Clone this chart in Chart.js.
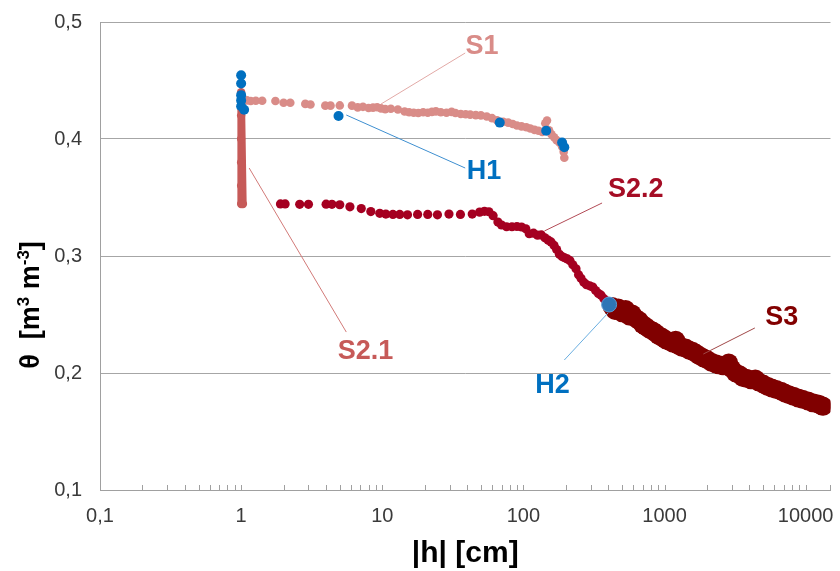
<!DOCTYPE html>
<html>
<head>
<meta charset="utf-8">
<script src="https://cdn.jsdelivr.net/npm/chart.js@4"></script>
<style>
html,body{margin:0;padding:0;background:#fff;}
#wrap{width:840px;height:571px;}
</style>
</head>
<body>
<div id="wrap"><canvas id="c" width="840" height="571"></canvas></div>
<script>
// ---- data (|h| in cm, theta in m3/m3) ----
const xTickValues = [0.1, 1, 10, 100, 1000, 10000];
const yTickValues = [0.1, 0.2, 0.3, 0.4, 0.5];

const s1H = [1.1,1.17,1.27,1.41,1.75,2.0,2.23,2.85,3.1,3.95,4.3,5.0,6.1,6.7,7.3,8.0,8.6,9.2,9.8,10.5,11.5,12.9,14.4,15.5,16.7,18,19.5,21,22.5,24,26,28.5,31,33,36,39,42,46,50,55,60,65,72,78,84,90,97,105,112,120,128,136,143,147,152,158,165,172,180,188,193,195];
const s1T = [0.433,0.4325,0.4327,0.4327,0.4325,0.431,0.431,0.43,0.4295,0.4285,0.4285,0.4287,0.4285,0.427,0.4275,0.4265,0.4268,0.4272,0.4262,0.4255,0.4258,0.4252,0.4235,0.4228,0.4225,0.4222,0.4228,0.4224,0.4232,0.4236,0.4228,0.4224,0.4232,0.4222,0.4214,0.4212,0.4208,0.4204,0.4202,0.4192,0.4178,0.416,0.4148,0.414,0.4128,0.4115,0.4108,0.41,0.409,0.4078,0.407,0.406,0.4135,0.4158,0.4075,0.404,0.4015,0.399,0.397,0.3935,0.389,0.384];

const s21H = [1,1,1,1,1,1,1.03];
const s21T = [0.3445,0.36,0.38,0.40,0.42,0.44,0.3445];

const s22H = [1.9,2.05,2.6,3.0,4.0,4.4,5.0,5.9,7.1,8.3,9.6,10.6,11.9,13.3,15.1,17.8,21,24.6,29.7,35.8,43.4,49,53,57,61,66,70,76,83,90,97,104,110,118,126,134,142,150,157,165,172,180,188,196,205,214,224,236,246,256,268,280,295,310,325,340,355,372,390,405];
const s22T = [0.3445,0.3445,0.3442,0.3442,0.3443,0.3442,0.3438,0.342,0.3405,0.338,0.3365,0.3358,0.3355,0.3355,0.3352,0.3355,0.3355,0.3352,0.3358,0.3355,0.3358,0.3375,0.3382,0.3378,0.3345,0.329,0.3265,0.325,0.325,0.3252,0.3248,0.3232,0.319,0.3195,0.3178,0.318,0.3155,0.3135,0.312,0.309,0.3055,0.3015,0.2995,0.2985,0.2975,0.296,0.2925,0.289,0.284,0.281,0.2775,0.2755,0.2745,0.2735,0.2705,0.268,0.2665,0.2635,0.2615,0.26];

const s3H = [425,445,470,500,530,560,590,625,660,700,735,780,825,867,910,960,1020,1080,1150,1200,1260,1330,1410,1500,1580,1660,1760,1880,2000,2150,2300,2420,2600,2850,3000,3180,3400,3600,3800,4100,4400,4620,5000,5400,5760,6200,6700,7100,7600,8200,8850,9500,10400,11200,12000,12500,13000,13300];
const s3T = [0.2568,0.2535,0.2555,0.2515,0.2542,0.2488,0.2505,0.2468,0.2448,0.2415,0.2398,0.2375,0.236,0.2341,0.232,0.2305,0.2284,0.2272,0.2255,0.228,0.2235,0.222,0.2213,0.2195,0.2185,0.217,0.215,0.213,0.2115,0.2092,0.2078,0.207,0.2062,0.2085,0.2035,0.2002,0.1985,0.1962,0.1955,0.1942,0.1948,0.1925,0.1905,0.1885,0.1872,0.1858,0.1845,0.183,0.1815,0.1802,0.1787,0.1775,0.176,0.1745,0.1738,0.173,0.172,0.1716];

const h1H = [1,1,1,1,1,1.05,4.9,68,145,188,195];
const h1T = [0.4545,0.4475,0.4375,0.433,0.428,0.425,0.4197,0.414,0.407,0.397,0.393];

const h2H = [405];
const h2T = [0.2585];

// annotation labels: [text, lineStart(h,theta), lineEnd(h,theta), textPos(h,theta), textColor, lineColor]
const labels = [
  ['S1',   [9.8,0.4299],  [38.7,0.4735], [51,0.4786],   '#D98C88', '#E2A9A6'],
  ['H1',   [5.56,0.4205], [38.7,0.3752], [52.7,0.3718], '#0070C0', '#3E8FD0'],
  ['S2.1', [1.14,0.3752], [5.56,0.235],  [7.6,0.218],   '#C65A58', '#D27A78'],
  ['S2.2', [141,0.3214],  [361,0.3453],  [626,0.3564],  '#A50D25', '#B24A55'],
  ['H2',   [398,0.2513],  [195,0.2111],  [161,0.1889],  '#0070C0', '#6AAEE0'],
  ['S3',   [1883,0.2162], [4366,0.2385], [6760,0.247],  '#820000', '#A04848']
];

function pts(hs, ts){ return hs.map((h,i)=>({x:h, y:ts[i]})); }
function fmt(v){ return String(v).replace('.', ','); }

const FONT = "'Liberation Sans', Arial, sans-serif";

const extras = {
  id: 'extras',
  afterDraw(chart){
    const ctx = chart.ctx, xs = chart.scales.x, ca = chart.chartArea;
    ctx.save();
    ctx.strokeStyle = '#A0A0A0'; ctx.lineWidth = 1;
    for (let d = 0.1; d < 20000; d *= 10) {
      for (let m = 1; m <= 10; m++) {
        const v = m * d;
        if (v <= xs.min * 1.0001 || v > xs.max * 1.0001) continue;
        const px = Math.round(xs.getPixelForValue(v)) + 0.5;
        ctx.beginPath(); ctx.moveTo(px, ca.bottom); ctx.lineTo(px, ca.bottom - 5); ctx.stroke();
      }
    }
    const pxe = Math.round(ca.right) - 0.5;
    ctx.beginPath(); ctx.moveTo(pxe, ca.bottom); ctx.lineTo(pxe, ca.bottom - 5); ctx.stroke();
    ctx.restore();
  },
  afterDatasetsDraw(chart){
    const ctx = chart.ctx, xs = chart.scales.x, ys = chart.scales.y, ca = chart.chartArea;
    ctx.save();
    labels.forEach(l => {
      const [t, a, b, p, tc, lc] = l;
      ctx.strokeStyle = lc; ctx.lineWidth = 1;
      ctx.beginPath();
      ctx.moveTo(xs.getPixelForValue(a[0]), ys.getPixelForValue(a[1]));
      ctx.lineTo(xs.getPixelForValue(b[0]), ys.getPixelForValue(b[1]));
      ctx.stroke();
      ctx.fillStyle = tc;
      ctx.font = "bold 27px " + FONT;
      ctx.textAlign = 'center'; ctx.textBaseline = 'middle';
      ctx.fillText(t, xs.getPixelForValue(p[0]), ys.getPixelForValue(p[1]));
    });
    ctx.fillStyle = '#000';
    ctx.font = "bold 30px " + FONT;
    ctx.textAlign = 'center'; ctx.textBaseline = 'middle';
    ctx.fillText('|h| [cm]', (ca.left + ca.right) / 2, 554);
    ctx.translate(29, (ca.top + ca.bottom) / 2 + 49);
    ctx.rotate(-Math.PI / 2);
    const parts = [
      ['θ  [m', 27, 0], ['3', 17, -10], [' m', 27, 0], ['-3', 17, -10], [']', 27, 0]
    ];
    let total = 0;
    parts.forEach(pp => { ctx.font = 'bold ' + pp[1] + 'px ' + FONT; total += ctx.measureText(pp[0]).width; });
    let x = -total / 2;
    ctx.textAlign = 'left'; ctx.textBaseline = 'alphabetic';
    parts.forEach(pp => {
      ctx.font = 'bold ' + pp[1] + 'px ' + FONT;
      ctx.fillText(pp[0], x, 10 + pp[2]);
      x += ctx.measureText(pp[0]).width;
    });
    ctx.restore();
  }
};

new Chart(document.getElementById('c'), {
  type: 'scatter',
  data: {
    datasets: [
      { label: 'H1', data: pts(h1H, h1T), backgroundColor: '#0070C0', borderColor: '#0070C0', pointRadius: 5, pointBorderWidth: 0, order: 0 },
      { label: 'H2', data: pts(h2H, h2T), backgroundColor: '#2E75B6', borderColor: '#5B9BD5', pointRadius: 7.5, pointBorderWidth: 1, order: 0 },
      { label: 'S1', data: pts(s1H, s1T), backgroundColor: '#D98C88', borderColor: '#D98C88', pointRadius: 4.3, pointBorderWidth: 0, order: 3 },
      { label: 'S2.1', data: pts(s21H, s21T), backgroundColor: '#C65A58', borderColor: '#C65A58', pointRadius: 4.2, pointBorderWidth: 0, borderWidth: 7.5, showLine: true, order: 3 },
      { label: 'S2.2', data: pts(s22H, s22T), backgroundColor: '#A50021', borderColor: '#A50021', pointRadius: 4.6, pointBorderWidth: 0, order: 2 },
      { label: 'S3', data: pts(s3H, s3T), backgroundColor: '#800000', borderColor: '#800000', pointRadius: 9.5, pointBorderWidth: 0, order: 1 }
    ]
  },
  options: {
    responsive: false,
    animation: false,
    layout: { padding: { top: 22, right: 5, left: 0, bottom: 0 } },
    plugins: { legend: { display: false }, tooltip: { enabled: false } },
    scales: {
      x: {
        type: 'logarithmic',
        min: 0.1, max: 15000,
        afterBuildTicks: s => { s.ticks = xTickValues.map(v => ({ value: v })); },
        afterFit: s => { s.height = 81; s.paddingLeft = 0; s.paddingRight = 0; },
        grid: { display: false, drawTicks: false },
        border: { display: true, color: '#A0A0A0', width: 1 },
        ticks: { color: '#3a3a3a', font: { family: FONT, size: 20 }, padding: 14, maxRotation: 0, autoSkip: false,
                 callback: v => fmt(v) }
      },
      y: {
        min: 0.1, max: 0.5,
        afterBuildTicks: s => { s.ticks = yTickValues.map(v => ({ value: v })); },
        afterFit: s => { s.width = 100; s.paddingTop = 0; s.paddingBottom = 0; },
        grid: { color: '#A6A6A6', drawTicks: false, lineWidth: 1 },
        border: { display: true, color: '#A0A0A0', width: 1 },
        ticks: { color: '#3a3a3a', font: { family: FONT, size: 20 }, padding: 18,
                 callback: v => fmt(Number(v).toFixed(1)) }
      }
    }
  },
  plugins: [extras]
});
</script>
</body>
</html>
